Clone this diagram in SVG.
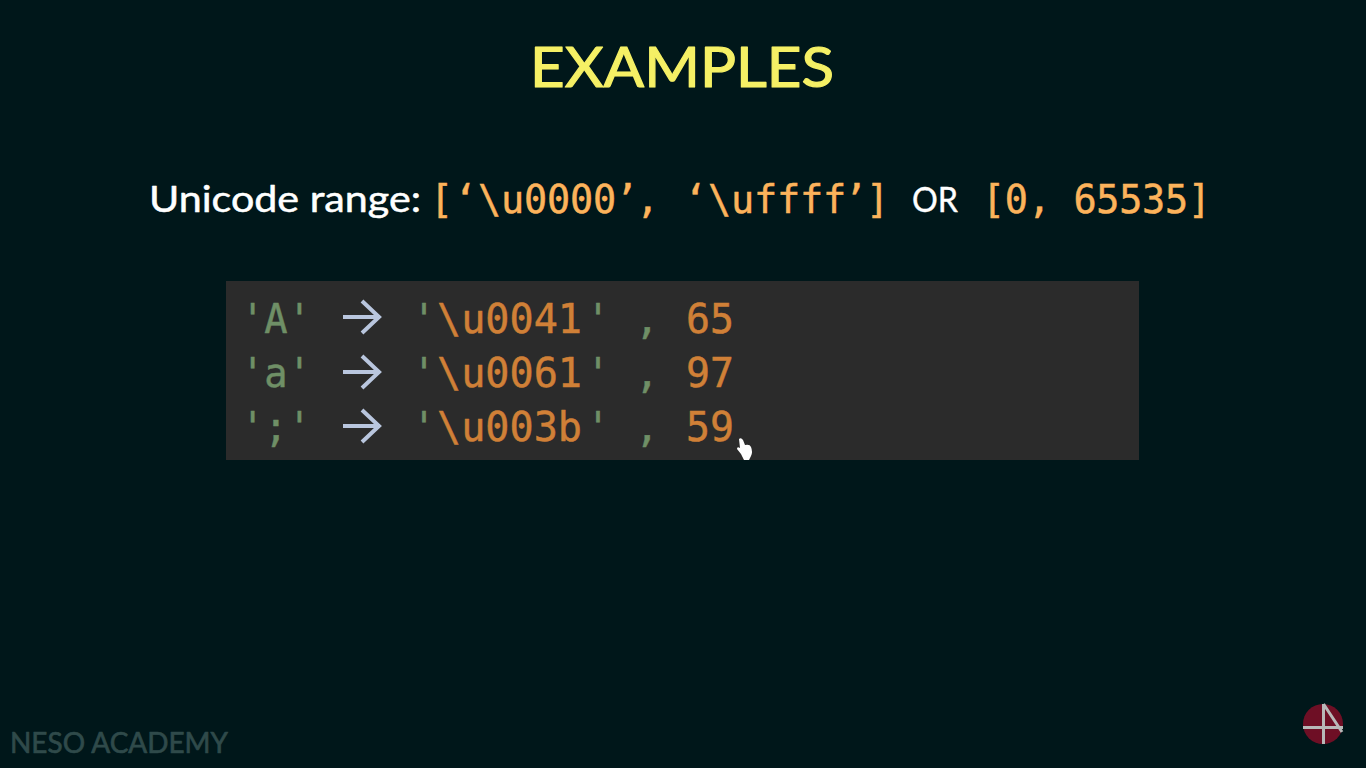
<svg xmlns="http://www.w3.org/2000/svg" width="1366" height="768" viewBox="0 0 1366 768">
<style>
.hand{font-family:"Lato","Noto Sans",sans-serif;stroke-linejoin:round}
.mono{font-family:"DejaVu Sans Mono","Liberation Mono",monospace;font-size:41px}
.top{font-size:38.500px;stroke:#fcb35b;stroke-width:.5}
.o{fill:#fcb35b}
.g{fill:#6f8f66;stroke:#6f8f66;stroke-width:.5}
.c{fill:#d08037;stroke:#d08037;stroke-width:.5}
.arr{fill:none;stroke:#b9c6de;stroke-width:4}
</style>
<rect width="1366" height="768" fill="#00171a"/>
<text id="title" class="hand" x="530" y="87" font-size="56" fill="#f5f065" stroke="#f5f065" stroke-width="1.2" textLength="304" lengthAdjust="spacingAndGlyphs">EXAMPLES</text>
<g id="range">
<text class="hand" x="149" y="212" font-size="37" fill="#ffffff" stroke="#ffffff" stroke-width=".5" textLength="272" lengthAdjust="spacingAndGlyphs">Unicode range:</text>
<text class="mono top o" x="430 454 478 501 524 547 570 593 615 636 660 684 708 731 754 777 800 823 844 866" y="213">[‘\u0000’, ‘\uffff’]</text>
<text class="hand" x="912" y="212" font-size="35" fill="#ffffff" stroke="#ffffff" stroke-width=".4" textLength="46" lengthAdjust="spacingAndGlyphs">OR</text>
<text class="mono top o" x="982" y="213" textLength="229" lengthAdjust="spacing">[0, 65535]</text>
</g>
<rect id="box" x="226" y="281" width="913" height="179" fill="#2b2b2b"/>
<g id="row1">
<text class="mono g" x="241" y="333" textLength="70" lengthAdjust="spacingAndGlyphs">'A'</text>
<path class="arr" d="M343 317H379M362 301L379 317L362 333"/>
<text class="mono g" x="412" y="333" textLength="24" lengthAdjust="spacingAndGlyphs">'</text>
<text class="mono c" x="437" y="333" textLength="145" lengthAdjust="spacingAndGlyphs">\u0041</text>
<text class="mono g" x="586" y="333" textLength="24" lengthAdjust="spacingAndGlyphs">'</text>
<text class="mono g" x="635" y="333" textLength="24" lengthAdjust="spacingAndGlyphs">,</text>
<text class="mono c" x="686" y="333" textLength="48" lengthAdjust="spacingAndGlyphs">65</text>
</g>
<g id="row2">
<text class="mono g" x="241" y="387" textLength="70" lengthAdjust="spacingAndGlyphs">'a'</text>
<path class="arr" d="M343 372H379M362 356L379 372L362 388"/>
<text class="mono g" x="412" y="387" textLength="24" lengthAdjust="spacingAndGlyphs">'</text>
<text class="mono c" x="437" y="387" textLength="145" lengthAdjust="spacingAndGlyphs">\u0061</text>
<text class="mono g" x="586" y="387" textLength="24" lengthAdjust="spacingAndGlyphs">'</text>
<text class="mono g" x="635" y="387" textLength="24" lengthAdjust="spacingAndGlyphs">,</text>
<text class="mono c" x="686" y="387" textLength="48" lengthAdjust="spacingAndGlyphs">97</text>
</g>
<g id="row3">
<text class="mono g" x="241" y="441" textLength="70" lengthAdjust="spacingAndGlyphs">';'</text>
<path class="arr" d="M343 426H379M362 410L379 426L362 442"/>
<text class="mono g" x="412" y="441" textLength="24" lengthAdjust="spacingAndGlyphs">'</text>
<text class="mono c" x="437" y="441" textLength="145" lengthAdjust="spacingAndGlyphs">\u003b</text>
<text class="mono g" x="586" y="441" textLength="24" lengthAdjust="spacingAndGlyphs">'</text>
<text class="mono g" x="635" y="441" textLength="24" lengthAdjust="spacingAndGlyphs">,</text>
<text class="mono c" x="686" y="441" textLength="48" lengthAdjust="spacingAndGlyphs">59</text>
</g>
<path id="cursor" d="M739 439Q741 437 743 440L745 445Q750 444 751 447Q753 452 751 456L749 460H744L741 454L737 449Q737 446 740 448Z" fill="#ffffff"/>
<text id="watermark" class="hand" x="10" y="753" font-size="29" fill="#2f4a4a" stroke="#2f4a4a" stroke-width=".7" textLength="218" lengthAdjust="spacingAndGlyphs">NESO ACADEMY</text>
<g id="logo">
<circle cx="1323" cy="724" r="20" fill="#6e0f25"/>
<path d="M1303 727.500H1343M1323.500 704V744M1323.500 704L1342 732" fill="none" stroke="#b8b8b8" stroke-width="3"/>
</g>
</svg>
